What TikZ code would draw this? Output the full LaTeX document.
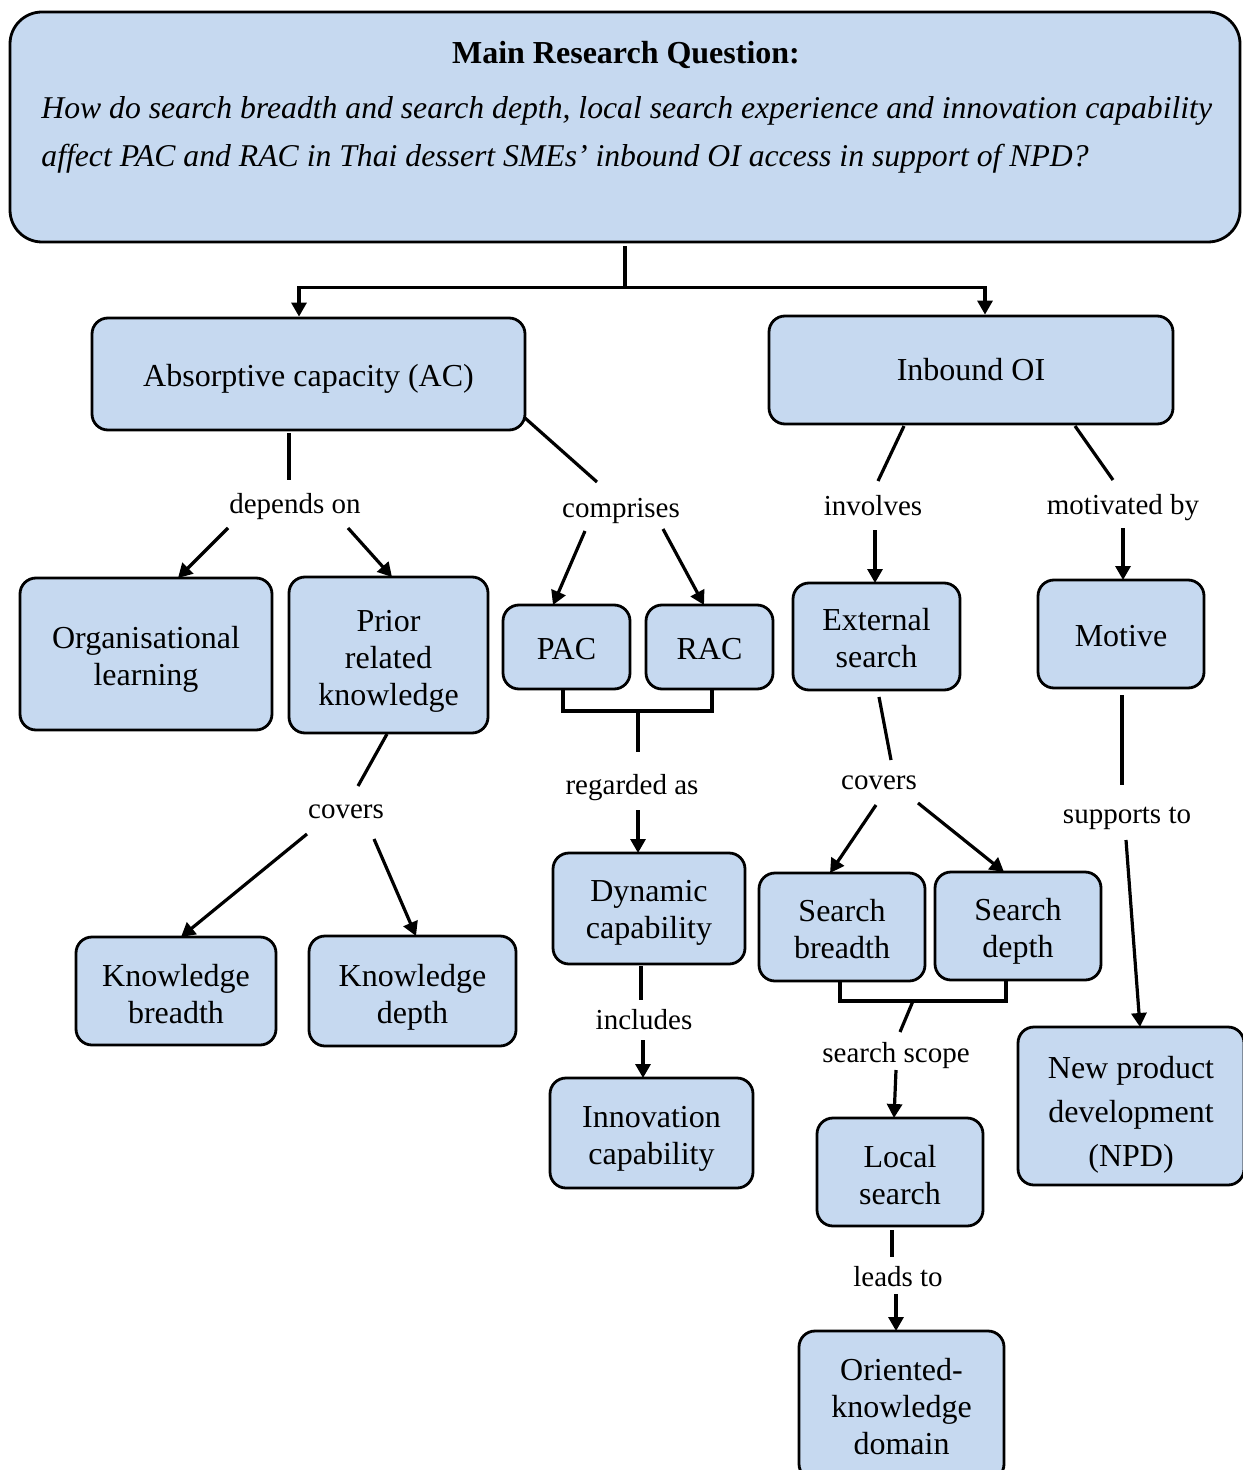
\documentclass[tikz,border=0pt]{standalone}
\usepackage{fontspec}
\setmainfont{Liberation Serif}
\usetikzlibrary{calc,arrows.meta}
\definecolor{boxblue}{RGB}{198,217,240}
% invisible first-line strut: lowers the text block inside its box
\newcommand{\liftby}[1]{\rule{0pt}{#1}}
\begin{document}
\begin{tikzpicture}[x=0.5pt,y=-0.5pt,
  box/.style={draw=black, line width=1.4pt, fill=boxblue, rounded corners=8pt,
    align=center, inner sep=0pt, font=\fontsize{16}{18.5}\selectfont},
  lbl/.style={inner sep=1pt, text height=13.5pt, text depth=3pt,
    font=\fontsize{14.5}{17}\selectfont},
  conn/.style={line width=1.6pt},
  arr/.style={conn, -{Triangle[length=7pt,width=7.5pt]}}]
\useasboundingbox (0,0) rectangle (1242,1470);

% research question panel
\node[box, rounded corners=16pt, minimum width=615pt, minimum height=115pt] (main) at (625,127) {};
\node[font=\fontsize{16}{18.5}\selectfont\bfseries] (title) at (626,55) {Main Research Question:};
\node[anchor=west, align=left, inner sep=0pt, font=\fontsize{15.85}{24}\selectfont\itshape] (question) at (41,135)
  {How do search breadth and search depth, local search experience and innovation capability\\
   affect PAC and RAC in Thai dessert SMEs’ inbound OI access in support of NPD?};

% concept boxes
\node[box, minimum width=216.5pt, minimum height=56pt] (ac) at (308.5,374) {\liftby{16pt}Absorptive capacity (AC)};
\node[box, minimum width=202pt, minimum height=54pt] (inb) at (971,370) {Inbound OI};
\node[box, minimum width=126pt, minimum height=76pt] (org) at (146,654) {\liftby{16pt}Organisational\\learning};
\node[box, minimum width=99.5pt, minimum height=78pt] (prior) at (388.5,655) {\liftby{17pt}Prior\\related\\knowledge};
\node[box, minimum width=63.5pt, minimum height=42pt] (pac) at (566.5,647) {\liftby{13pt}PAC};
\node[box, minimum width=63.5pt, minimum height=42pt] (rac) at (709.5,647) {\liftby{13pt}RAC};
\node[box, minimum width=96pt, minimum height=55.5pt] (dyn) at (649,908.5) {\liftby{15pt}Dynamic\\capability};
\node[box, minimum width=101.5pt, minimum height=55pt] (inn) at (651.5,1133) {\liftby{16pt}Innovation\\capability};
\node[box, minimum width=100pt, minimum height=54pt] (kb) at (176,991) {\liftby{14pt}Knowledge\\breadth};
\node[box, minimum width=103.5pt, minimum height=55pt] (kd) at (412.5,991) {\liftby{17pt}Knowledge\\depth};
\node[box, minimum width=83.5pt, minimum height=53.5pt] (ext) at (876.5,636.5) {\liftby{13pt}External\\search};
\node[box, minimum width=83pt, minimum height=54pt] (mot) at (1121,634) {\liftby{13pt}Motive};
\node[box, minimum width=83pt, minimum height=54pt] (sb) at (842,927) {\liftby{13pt}Search\\breadth};
\node[box, minimum width=83pt, minimum height=54pt] (sd) at (1018,926) {\liftby{16pt}Search\\depth};
\node[box, minimum width=83pt, minimum height=54pt] (loc) at (900,1172) {\liftby{14pt}Local\\search};
\node[box, minimum width=102.5pt, minimum height=74.5pt] (ori) at (901.5,1405.5) {\liftby{12pt}Oriented-\\knowledge\\domain};
\node[box, minimum width=113pt, minimum height=79pt, font=\fontsize{16}{22}\selectfont] (npd) at (1131,1106) {\liftby{20pt}New product\\development\\(NPD)};

% link phrases
\node[lbl] (dep) at (295,503) {depends on};
\node[lbl] (comp) at (621,507) {comprises};
\node[lbl] (cov1) at (346,808) {covers};
\node[lbl] (reg) at (632,784) {regarded as};
\node[lbl] (incl) at (644,1019) {includes};
\node[lbl] (invl) at (873,505) {involves};
\node[lbl] (motby) at (1123,504) {motivated by};
\node[lbl] (cov2) at (879,779) {covers};
\node[lbl] (scope) at (896,1052) {search scope};
\node[lbl] (leads) at (898,1276) {leads to};
\node[lbl] (supp) at (1127,813) {supports to};

% top split
\draw[conn] (main.south) ++(0,3) -- ++(0,41) coordinate (split);
\draw[arr] (split) -| ($(ac.north)+(-9.5,0)$);
\draw[arr] (split) -| ($(inb.north)+(14,0)$);

% absorptive capacity branch
\draw[conn] ($(ac)+(-19.5,59)$) -- ($(dep)+(-6,-23)$);
\draw[arr] ($(dep)+(-67,25)$) -- ($(org)+(32,-76)$);
\draw[arr] ($(dep)+(53,25)$) -- ($(prior)+(3.5,-78)$);
\draw[conn] ($(ac)+(216.5,44)$) -- ($(comp)+(-24,-25)$);
\draw[arr] ($(comp)+(-36,24)$) -- ($(pac)+(-13.5,-42)$);
\draw[arr] ($(comp)+(42,22)$) -- ($(rac)+(-5.5,-42)$);
\draw[conn] ($(pac)+(-3.5,42)$) -- ++(0,22) -| ($(rac)+(2.5,42)$);
\coordinate (prjoin) at ($(pac.south)!0.5!(rac.south)+(0,22)$);
\draw[conn] (prjoin) -- ($(reg)+(6,-32)$);
\draw[arr] ($(reg)+(6,26)$) -- ($(dyn)+(-11,-55.5)$);
\draw[conn] ($(dyn)+(-8,57.5)$) -- ($(incl)+(-3,-19)$);
\draw[arr] ($(incl)+(-1,21)$) -- ($(inn)+(-8.5,-55)$);
\draw[conn] ($(prior)+(-1.5,79)$) -- ($(cov1)+(12,-22)$);
\draw[arr] ($(cov1)+(-39,26)$) -- ($(kb)+(5,-54)$);
\draw[arr] ($(cov1)+(28,31)$) -- ($(kd)+(3.5,-55)$);

% inbound OI branch
\draw[conn] ($(inb)+(-67,56)$) -- ($(invl)+(5,-24)$);
\draw[arr] ($(invl)+(2,25)$) -- ($(ext)+(-1.5,-53.5)$);
\draw[conn] ($(inb)+(104,56)$) -- ($(motby)+(-10,-24)$);
\draw[arr] ($(motby)+(0,24)$) -- ($(mot)+(2,-54)$);
\draw[conn] ($(ext)+(2.5,60.5)$) -- ($(cov2)+(12,-19)$);
\draw[arr] ($(cov2)+(-3,26)$) -- ($(sb)+(-12,-54)$);
\draw[arr] ($(cov2)+(39,24)$) -- ($(sd)+(-14,-54)$);
\draw[conn] ($(sb)+(-2,55)$) -- ++(0,19) -| ($(sd)+(-12,54)$);
\coordinate (sjoin) at ($(sb)+(71,74)$);
\draw[conn] (sjoin) -- ($(scope)+(4,-20)$);
\draw[arr] ($(scope)+(0,18)$) -- ($(loc)+(-6,-54)$);
\draw[conn] ($(loc)+(-8,58)$) -- ($(leads)+(-6,-19)$);
\draw[arr] ($(leads)+(-2,18)$) -- ($(ori)+(-5.5,-74.5)$);
\draw[conn] ($(mot)+(1,61)$) -- ($(supp)+(-5,-28)$);
\draw[arr] ($(supp)+(-1,27)$) -- ($(npd)+(9,-79)$);
\end{tikzpicture}
\end{document}
